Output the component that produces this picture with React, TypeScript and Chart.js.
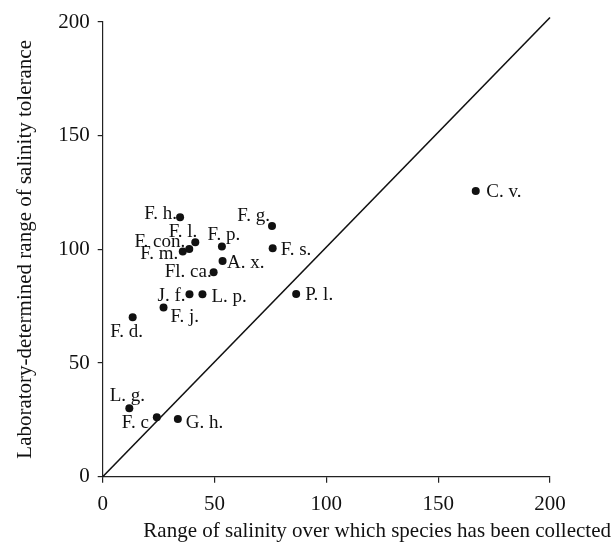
import React, { useEffect, useRef } from "react";
import { Chart, registerables } from "chart.js";

Chart.register(...registerables);

const speciesLabels = [
  "F. h.", "F. g.", "F. l.", "F. con.", "F. m.", "F. p.", "F. s.", "A. x.",
  "Fl. ca.", "J. f.", "L. p.", "F. j.", "F. d.", "L. g.", "F. c", "G. h.",
  "P. l.", "C. v.",
];
const collectedRange = [
  34.6, 75.7, 41.4, 38.7, 35.8, 53.3, 76.0, 53.6,
  49.6, 38.8, 44.6, 27.2, 13.4, 11.9, 24.2, 33.6,
  86.5, 166.8,
];
const toleranceRange = [
  114.1, 110.3, 103.1, 100.2, 99.0, 101.2, 100.5, 94.9,
  89.9, 80.2, 80.2, 74.4, 70.1, 30.1, 26.1, 25.4,
  80.4, 125.7,
];
const xTicks = [0, 50, 100, 150, 200];
const yTicks = [0, 50, 100, 150, 200];
const lineX = [0, 200];
const lineY = [0, 202];

// label placement: [dx, dy(cap centre), align]
const LABEL_OFFSETS: [number, number, CanvasTextAlign][] = [
  [-3, -5, "right"],
  [-2, -11, "right"],
  [2, -12, "right"],
  [-4, -8, "right"],
  [-4.5, 1.5, "right"],
  [2, -13, "center"],
  [8, 0, "left"],
  [4.5, 0.5, "left"],
  [-2, -2, "right"],
  [-4, 0, "right"],
  [9, 1, "left"],
  [7, 8, "left"],
  [-6, 13.5, "center"],
  [-2, -14, "center"],
  [-8, 4, "right"],
  [8, 3, "left"],
  [9, 0, "left"],
  [10.5, 0, "left"],
];

const SERIF = "'Liberation Serif', 'DejaVu Serif', serif";

export default function App() {
  const ref = useRef<HTMLCanvasElement | null>(null);

  useEffect(() => {
    document.body.style.margin = "0";
    if (!ref.current) return;

    const labelPlugin = {
      id: "pointLabels",
      afterDatasetsDraw(chart: any) {
        const ctx = chart.ctx;
        const meta = chart.getDatasetMeta(1);
        const size = 19;
        ctx.save();
        ctx.fillStyle = "#111";
        ctx.font = `${size}px ${SERIF}`;
        ctx.textBaseline = "alphabetic";
        meta.data.forEach((el: any, i: number) => {
          const [dx, dy, align] = LABEL_OFFSETS[i];
          ctx.textAlign = align;
          ctx.fillText(speciesLabels[i], el.x + dx, el.y + dy + size * 0.331);
        });
        // x-axis title
        ctx.font = `21px ${SERIF}`;
        ctx.textAlign = "right";
        ctx.fillText(
          "Range of salinity over which species has been collected",
          chart.chartArea.right + 61,
          537
        );
        ctx.restore();
      },
    };

    const chart = new Chart(ref.current, {
      type: "scatter",
      data: {
        datasets: [
          {
            type: "line",
            data: lineX.map((v, i) => ({ x: v, y: lineY[i] })),
            borderColor: "#111",
            borderWidth: 1.6,
            pointRadius: 0,
            fill: false,
            showLine: true,
            clip: false,
          } as any,
          {
            data: collectedRange.map((x, i) => ({ x, y: toleranceRange[i] })),
            backgroundColor: "#111",
            borderColor: "#111",
            pointRadius: 4,
            pointHoverRadius: 4,
            borderWidth: 0,
          },
        ],
      },
      plugins: [labelPlugin],
      options: {
        animation: false,
        responsive: false,
        events: [],
        layout: { padding: { left: 0, right: 66, top: 22, bottom: 0 } },
        plugins: { legend: { display: false }, tooltip: { enabled: false } },
        scales: {
          x: {
            type: "linear",
            min: 0,
            max: 200,
            afterFit(scale: any) {
              scale.height = 70.3;
            },
            afterBuildTicks(scale: any) {
              scale.ticks = xTicks.map((v) => ({ value: v }));
            },
            grid: {
              drawOnChartArea: false,
              drawTicks: true,
              tickLength: 6,
              color: "#222",
              lineWidth: 1.2,
            },
            border: { display: true, color: "#222", width: 1.2 },
            ticks: {
              color: "#111",
              padding: 9,
              font: { family: SERIF, size: 21 },
            },
          },
          y: {
            type: "linear",
            min: 0,
            max: 200,
            afterFit(scale: any) {
              scale.width = 102.7;
            },
            afterBuildTicks(scale: any) {
              scale.ticks = yTicks.map((v) => ({ value: v }));
            },
            grid: {
              drawOnChartArea: false,
              drawTicks: true,
              tickLength: 5,
              color: "#222",
              lineWidth: 1.2,
            },
            border: { display: true, color: "#222", width: 1.2 },
            ticks: {
              color: "#111",
              padding: 8,
              font: { family: SERIF, size: 21 },
            },
            title: {
              display: true,
              text: "Laboratory-determined range of salinity tolerance",
              color: "#111",
              font: { family: SERIF, size: 21 },
              padding: { top: 13, bottom: 0 },
            },
          },
        },
      },
    });
    return () => chart.destroy();
  }, []);

  return (
    <div style={{ width: 616, height: 547, background: "#fff" }}>
      <canvas ref={ref} width={616} height={547} style={{ display: "block" }} />
    </div>
  );
}
